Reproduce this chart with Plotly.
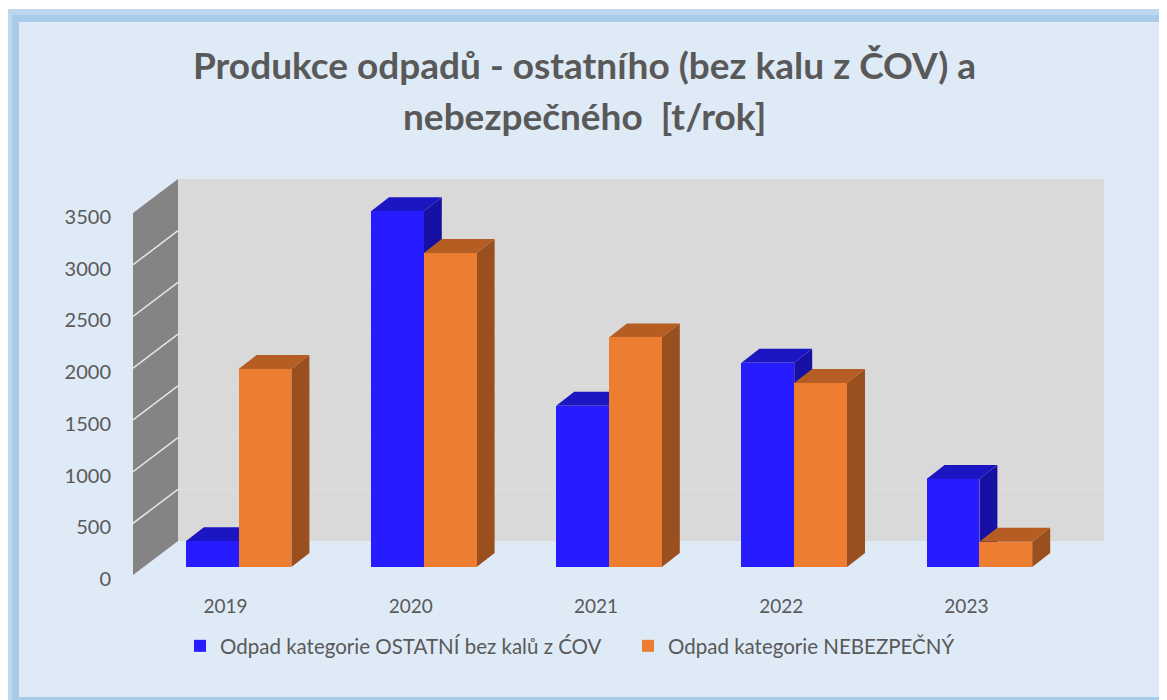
import plotly.graph_objects as go

# ---------------- data ----------------
years = ["2019", "2020", "2021", "2022", "2023"]
ostatni = [250, 3440, 1560, 1975, 850]          # Odpad kategorie OSTATNÍ bez kalů z ĆOV
nebezpecny = [1915, 3035, 2220, 1780, 245]      # Odpad kategorie NEBEZPEČNÝ
y_ticks = [0, 500, 1000, 1500, 2000, 2500, 3000, 3500]
series_names = ["Odpad kategorie OSTATNÍ bez kalů z ĆOV", "Odpad kategorie NEBEZPEČNÝ"]
title_lines = ["Produkce odpadů - ostatního (bez kalu z ČOV) a", "nebezpečného  [t/rok]"]

# ---------------- layout geometry (screen pixels; page body has an 8px margin) ----------------
S = 8
W, H = 1167 - S, 700 - S
L, R, T, B = 133, 1104, 170, 575          # plot area in screen px
PW, PH = R - L, B - T
XPX = 185.2                               # px per category
UPP = 3500 / 362.0                        # value units per px
x_range = [-0.5, -0.5 + PW / XPX]
y_range = [0, PH * UPP]
y_max = y_ticks[-1]

def dx(px):
    return px / XPX

def dy(px):
    return px * UPP

WDX, WDY = dx(45), dy(34)        # wall depth
BDX, BDY = dx(13), dy(8)         # bar front offset
DDX, DDY = dx(18), dy(14)        # bar depth
BW = dx(52.8)                    # bar width

font_fam = "Lato, 'Open Sans', sans-serif"
txt_col = "#595959"

def paper_x(px):
    return (px - L) / PW

def paper_y(py):
    return (B - py) / PH

shapes = []

def frame_rect(x0, y0, x1, y1, col):
    shapes.append(dict(type="rect", xref="paper", yref="paper", layer="below",
                       x0=paper_x(x0), x1=paper_x(x1), y0=paper_y(y1), y1=paper_y(y0),
                       fillcolor=col, line=dict(width=0)))

# outer frame
frame_rect(7, 9, 1190, 720, "#BDD7EE")
frame_rect(12, 15, 1190, 720, "#A9CBEA")
frame_rect(19, 22, 1164, 697, "#DEEAF6")

def poly(pts, col):
    path = "M " + " L ".join(f"{x},{y}" for x, y in pts) + " Z"
    shapes.append(dict(type="path", xref="x", yref="y", layer="below", path=path,
                       fillcolor=col, line=dict(width=0)))

def seg(x0, y0, x1, y1, col, lw):
    shapes.append(dict(type="line", xref="x", yref="y", layer="below",
                       x0=x0, y0=y0, x1=x1, y1=y1, line=dict(color=col, width=lw)))

x_left = -0.5
x_right = len(years) - 0.5
# back wall
poly([(x_left + WDX, WDY), (x_left + WDX, y_max + WDY),
      (x_right + WDX, y_max + WDY), (x_right + WDX, WDY)], "#D9D9D9")
for v in y_ticks[1:-1]:
    seg(x_left + WDX, v + WDY, x_right + WDX, v + WDY, "#DEDEDE", 1)
# side wall
poly([(x_left, 0), (x_left, y_max), (x_left + WDX, y_max + WDY), (x_left + WDX, WDY)], "#858484")
for v in y_ticks[1:-1]:
    seg(x_left, v, x_left + WDX, v + WDY, "#E6E6E6", 1.5)

# 3D faces of bars (tops and sides), order: blue then orange per category
series = [
    (ostatni, -BW, "#261CFF", "#1C16C2", "#1711A3"),
    (nebezpecny, 0.0, "#ED7D31", "#B55D22", "#9A4F1E"),
]
for i in range(len(years)):
    for vals, off, front, top, side in series:
        xl = i + BDX + off
        xr = xl + BW
        t = BDY + vals[i]
        b = BDY
        poly([(xr, b), (xr, t), (xr + DDX, t + DDY), (xr + DDX, b + DDY)], side)
        poly([(xl, t), (xl + DDX, t + DDY), (xr + DDX, t + DDY), (xr, t)], top)

fig = go.Figure()
for (vals, off, front, top, side), name in zip(series, series_names):
    fig.add_trace(go.Bar(
        x=[i + BDX for i in range(len(years))], y=vals, base=BDY,
        width=BW, offset=off, name=name,
        marker=dict(color=front, line=dict(width=0)),
        customdata=years,
        hovertemplate="%{customdata}: %{y}<extra>" + name + "</extra>",
    ))

annotations = []
for line, py in zip(title_lines, [65, 115]):
    annotations.append(dict(text=line, xref="paper", yref="paper",
                            x=paper_x(584), y=paper_y(py), xanchor="center", yanchor="middle",
                            showarrow=False,
                            font=dict(family=font_fam, size=37, color=txt_col, weight="bold")))

fig.update_layout(
    width=W, height=H,
    margin=dict(l=L - S, r=W - (R - S), t=T - S, b=H - (B - S), pad=0),
    paper_bgcolor="white", plot_bgcolor="rgba(0,0,0,0)",
    barmode="overlay", bargap=0,
    shapes=shapes, annotations=annotations,
    showlegend=True,
    legend=dict(orientation="h", x=paper_x(180), y=paper_y(626), xanchor="left", yanchor="top",
                font=dict(family=font_fam, size=20.5, color=txt_col),
                bgcolor="rgba(0,0,0,0)", entrywidth=403, entrywidthmode="pixels",
                traceorder="normal"),
    xaxis=dict(range=x_range, tickvals=list(range(len(years))), ticktext=years,
               showgrid=False, zeroline=False, showline=False,
               ticks="outside", ticklen=14, tickcolor="rgba(0,0,0,0)",
               tickfont=dict(family=font_fam, size=19, color=txt_col), fixedrange=True),
    yaxis=dict(range=y_range, tickvals=y_ticks,
               showgrid=False, zeroline=False, showline=False,
               ticks="outside", ticklen=17, tickcolor="rgba(0,0,0,0)", ticklabelshift=4,
               tickfont=dict(family=font_fam, size=20, color=txt_col), fixedrange=True),
)

fig.write_html("out.html")
